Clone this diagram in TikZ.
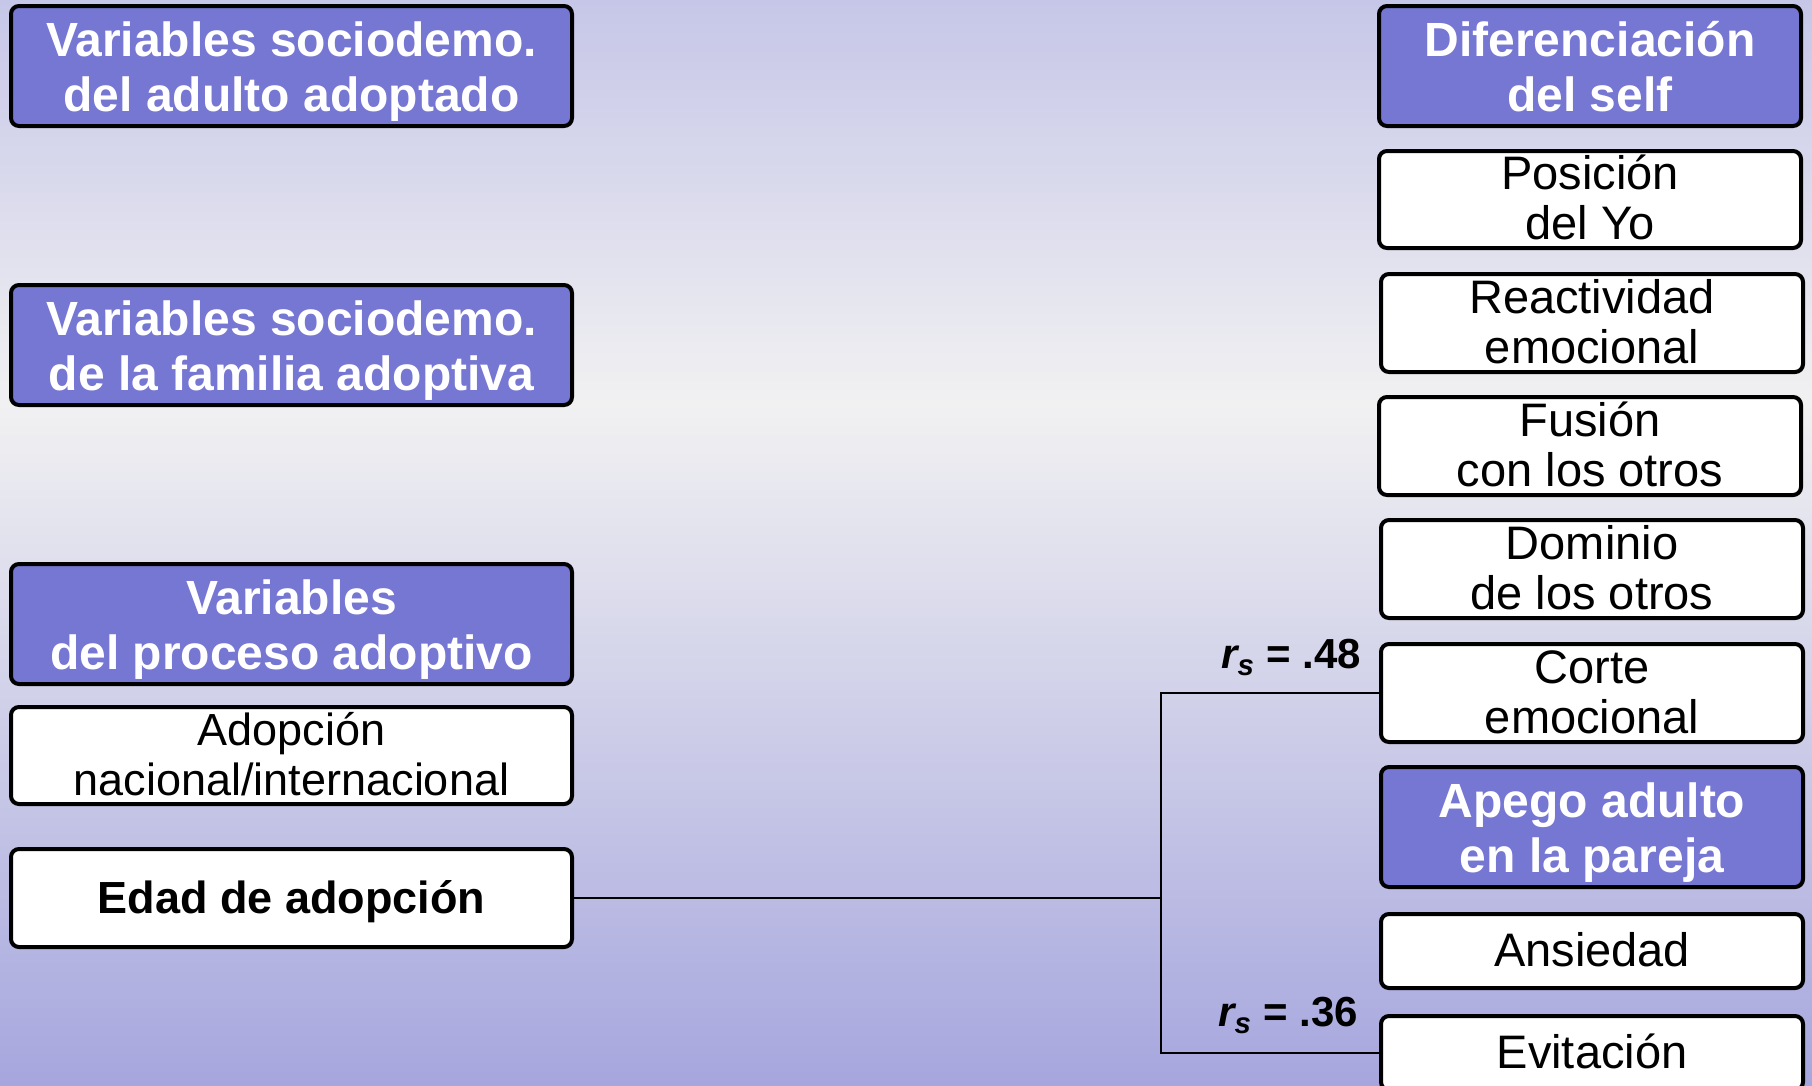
\documentclass[tikz,border=0pt]{standalone}
\usepackage{fontspec}
\setmainfont{Liberation Sans}
\definecolor{hdr}{RGB}{118,118,211}
\definecolor{bgtop}{RGB}{198,198,232}
\definecolor{bgmid}{RGB}{241,241,242}
\definecolor{bgbot}{RGB}{166,166,222}
\newcommand\hT{\rule{0pt}{46pt}}
\newcommand\iT{\rule{0pt}{44pt}}
\tikzset{
  box/.style={draw=black, line width=4pt, rounded corners=8pt, inner xsep=0pt, inner ysep=-15pt, align=center},
  hdrbox/.style={box, fill=hdr, text=white, font=\fontsize{48}{55}\selectfont\bfseries,
    execute at end node={\rule[-11pt]{0pt}{0pt}}},
  itembox/.style={box, fill=white, text=black, font=\fontsize{47}{50}\selectfont,
    execute at end node={\rule[-13.4pt]{0pt}{0pt}}},
  leftw/.style={minimum width=561pt},
  rightw/.style={minimum width=422pt},
  conn/.style={draw=black, line width=1.8pt},
  corr/.style={font=\fontsize{42}{48}\selectfont\bfseries, anchor=base east, inner sep=0pt}
}
\begin{document}
\begin{tikzpicture}[x=1pt,y=-1pt]
\useasboundingbox (0,0) rectangle (1812,1085);
\clip (0,0) rectangle (1812,1085);
\shade[top color=bgtop, bottom color=bgmid] (0,0) rectangle (1812,404);
\shade[top color=bgmid, bottom color=bgbot] (0,403) rectangle (1812,1085);
% left column
\node[hdrbox, leftw, minimum height=120pt] (l1) at (291.5,66) {\hT Variables sociodemo.\\del adulto adoptado};
\node[hdrbox, leftw, minimum height=120pt] (l2) at (291.5,345) {\hT Variables sociodemo.\\de la familia adoptiva};
\node[hdrbox, leftw, minimum height=120pt] (l3) at (291.5,624) {\hT Variables\\del proceso adoptivo};
\node[itembox, leftw, minimum height=97pt, font=\fontsize{45}{50}\selectfont] (l4) at (291.5,755.5) {\iT Adopción\\nacional/internacional};
\node[itembox, leftw, minimum height=98pt, font=\fontsize{45}{50}\selectfont\bfseries,
  execute at end node={\rule[-10.6pt]{0pt}{0pt}}] (edad) at (291.5,898) {\iT Edad de adopción};
% right column
\node[hdrbox, rightw, minimum height=120pt] (r1) at (1590,66) {\hT Diferenciación\\del self};
\node[itembox, rightw, minimum height=97pt] (r2) at (1590,199.5) {\iT Posición\\del Yo};
\node[itembox, rightw, minimum height=98pt] (r3) at (1592,323) {\iT Reactividad\\emocional};
\node[itembox, rightw, minimum height=98pt] (r4) at (1590,446) {\iT Fusión\\con los otros};
\node[itembox, rightw, minimum height=98pt] (r5) at (1592,569) {\iT Dominio\\de los otros};
\node[itembox, rightw, minimum height=98pt] (corte) at (1592,693) {\iT Corte\\emocional};
\node[hdrbox, rightw, minimum height=120pt] (r7) at (1592,827) {\hT Apego adulto\\en la pareja};
\node[itembox, rightw, minimum height=74pt] (r8) at (1592,951) {\iT Ansiedad};
\node[itembox, rightw, minimum height=74pt] (evit) at (1592,1053) {\iT Evitación};
% connectors
\coordinate (j) at (1161,898);
\draw[conn] (edad.east) -- (j);
\draw[conn] (corte.west) -| (j);
\draw[conn] (evit.west) -| (j);
% labels
\node[corr] (c1) at (1361,668) {\textit{r\textsubscript{s}} = .48};
\node[corr] (c2) at (1358,1026) {\textit{r\textsubscript{s}} = .36};
\end{tikzpicture}
\end{document}
